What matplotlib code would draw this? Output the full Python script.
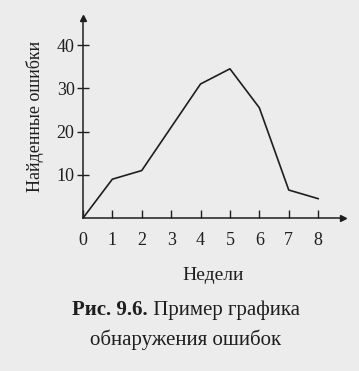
import matplotlib
matplotlib.use('Agg')
import matplotlib.pyplot as plt

# weeks and errors found
weeks = [0, 1, 2, 3, 4, 5, 6, 7, 8]
errors = [0, 9, 11, 21, 31, 34.5, 25.5, 6.5, 4.5]
yticks = [10, 20, 30, 40]

plt.rcParams['font.family'] = ['Liberation Serif', 'DejaVu Serif']
bg = '#ececec'
ink = '#1e1e1e'

fig = plt.figure(figsize=(3.59, 3.71), dpi=100, facecolor=bg)
ax = fig.add_axes([0.231, 0.412, 0.724, 0.539], facecolor=bg)

ax.plot(weeks, errors, color=ink, lw=1.2)

ax.set_xlim(0, 8.84)
ax.set_ylim(0, 46.2)
for s in ['top', 'right']:
    ax.spines[s].set_visible(False)
for s in ['left', 'bottom']:
    ax.spines[s].set_color(ink)
    ax.spines[s].set_linewidth(1.1)

# arrow heads on the axes
ax.plot(1, 0, '>', color=ink, ms=5, transform=ax.transAxes, clip_on=False)
ax.plot(0, 1, '^', color=ink, ms=5, transform=ax.transAxes, clip_on=False)

ax.set_xticks(weeks)
ax.set_yticks(yticks)
ax.tick_params(axis='x', direction='in', length=6, width=1, color=ink,
               labelsize=13, labelcolor=ink, pad=10)
ax.tick_params(axis='y', direction='inout', length=8, width=1, color=ink,
               labelsize=13, labelcolor=ink, pad=2)

ax.set_xlabel('Недели', fontsize=14, color=ink, labelpad=13)
fig.text(0.097, 0.687, 'Найденные ошибки', rotation=90, ha='center', va='center',
         fontsize=13, color=ink)

# caption: bold part + normal part, centred together
cap_size = 15
t1 = fig.text(0, 0.165, 'Рис. 9.6.', fontsize=cap_size, fontweight='bold',
              color=ink, ha='left', va='center')
t2 = fig.text(0, 0.165, ' Пример графика', fontsize=cap_size, color=ink,
              ha='left', va='center')
r = fig.canvas.get_renderer()
w1 = t1.get_window_extent(r).width / fig.bbox.width
w2 = t2.get_window_extent(r).width / fig.bbox.width
x0 = 0.518 - (w1 + w2) / 2
t1.set_x(x0)
t2.set_x(x0 + w1)
fig.text(0.518, 0.083, 'обнаружения ошибок', fontsize=cap_size, color=ink,
         ha='center', va='center')

fig.savefig('out.png', dpi=100, facecolor=bg)
